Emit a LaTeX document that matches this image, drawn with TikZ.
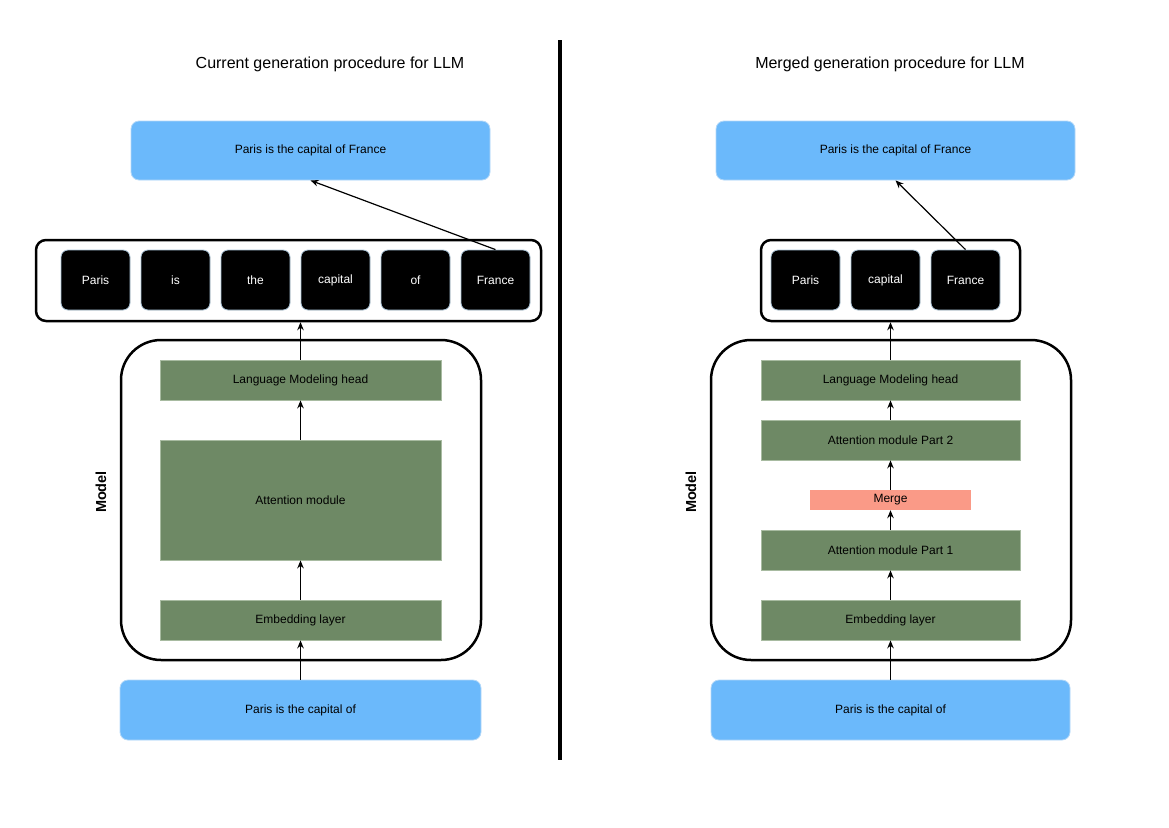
\documentclass[tikz,border=0pt]{standalone}
\usepackage{fontspec}
\setmainfont{Liberation Sans}
\usetikzlibrary{arrows.meta}
\definecolor{boxblue}{HTML}{6BB9FB}
\definecolor{blueedge}{HTML}{B3D8F8}
\definecolor{tokedge}{HTML}{A9C3D6}
\definecolor{layergreen}{HTML}{6E8965}
\definecolor{greenedge}{HTML}{A8BBA1}
\definecolor{mergered}{HTML}{FA9A87}
\begin{document}
\begin{tikzpicture}[x=1pt,y=-1pt,font=\fontsize{12}{14}\selectfont]
\tikzstyle{outbox}=[fill=boxblue,draw=blueedge,line width=0.8pt,rounded corners=8pt,inner sep=0pt]
\tikzstyle{tok}=[fill=black,draw=tokedge,line width=0.8pt,rounded corners=7pt,text=white,minimum width=69,minimum height=60,inner sep=0pt]
\tikzstyle{layer}=[fill=layergreen,draw=greenedge,line width=0.8pt,minimum height=40,inner sep=0pt]
\tikzstyle{mergebox}=[fill=mergered,minimum width=161,minimum height=20,inner sep=0pt]
\tikzstyle{frame}=[draw,line width=2.5pt,inner sep=0pt]
\tikzstyle{arr}=[-{Stealth[length=8pt,width=6.5pt]},line width=1.2pt]
\tikzstyle{title}=[font=\fontsize{16}{18}\selectfont]
\tikzstyle{side}=[rotate=90,font=\bfseries\fontsize{14.5}{16}\selectfont]
\useasboundingbox (0,0) rectangle (1169,827);

% left: current generation
\node[title] at (330,64) (titleL) {Current generation procedure for LLM};
\node[outbox,minimum width=359,minimum height=59] at (310.5,150.5) (outL) {Paris is the capital of France};
\node[frame,rounded corners=10pt,minimum width=505,minimum height=81] at (288.5,280.5) (tokL) {};
\node[tok] at (95.5,280) (tL1) {Paris};
\node[tok] at (175.5,280) (tL2) {is};
\node[tok] at (255.5,280) (tL3) {the};
\node[tok] at (335.5,280) (tL4) {capital};
\node[tok] at (415.5,280) (tL5) {of};
\node[tok] at (495.5,280) (tL6) {France};
\node[frame,rounded corners=40pt,minimum width=360,minimum height=320] at (301,500) (modL) {};
\node[side] at (101,492) (labL) {Model};
\node[layer,minimum width=281] at (300.5,380) (lmL) {Language Modeling head};
\node[layer,minimum width=281,minimum height=120] at (300.5,500) (attL) {Attention module};
\node[layer,minimum width=281] at (300.5,620) (embL) {Embedding layer};
\node[outbox,minimum width=361,minimum height=60] at (300.5,710) (inL) {Paris is the capital of};

\draw[arr] (inL.north) -- (embL.south);
\draw[arr] (embL.north) -- (attL.south);
\draw[arr] (attL.north) -- (lmL.south);
\draw[arr] (lmL.north) -- (lmL.north |- tokL.south);
\draw[arr] (tL6.north) -- (outL.south);

% divider
\coordinate (divtop) at (560,40);
\coordinate (divbot) at (560,760);
\draw[line width=3.5pt] (divtop) -- (divbot);

% right: merged generation
\node[title] at (890,64) (titleR) {Merged generation procedure for LLM};
\node[outbox,minimum width=359,minimum height=59] at (895.5,150.5) (outR) {Paris is the capital of France};
\node[frame,rounded corners=10pt,minimum width=259,minimum height=81] at (890.5,280.5) (tokR) {};
\node[tok] at (805.5,280) (tR1) {Paris};
\node[tok] at (885.5,280) (tR2) {capital};
\node[tok] at (965.5,280) (tR3) {France};
\node[frame,rounded corners=40pt,minimum width=360,minimum height=320] at (891,500) (modR) {};
\node[side] at (691,492) (labR) {Model};
\node[layer,minimum width=259] at (890.5,380) (lmR) {Language Modeling head};
\node[layer,minimum width=259] at (890.5,440) (att2R) {Attention module Part 2};
\node[mergebox] at (890.5,500) (mrgR) {Merge};
\node[layer,minimum width=259] at (890.5,550) (att1R) {Attention module Part 1};
\node[layer,minimum width=259] at (890.5,620) (embR) {Embedding layer};
\node[outbox,minimum width=359,minimum height=60] at (890.5,710) (inR) {Paris is the capital of};

\draw[arr] (inR.north) -- (embR.south);
\draw[arr] (embR.north) -- (att1R.south);
\draw[arr] (att1R.north) -- (mrgR.south);
\draw[arr] (mrgR.north) -- (att2R.south);
\draw[arr] (att2R.north) -- (lmR.south);
\draw[arr] (lmR.north) -- (tokR.south);
\draw[arr] (tR3.north) -- (outR.south);
\end{tikzpicture}
\end{document}
